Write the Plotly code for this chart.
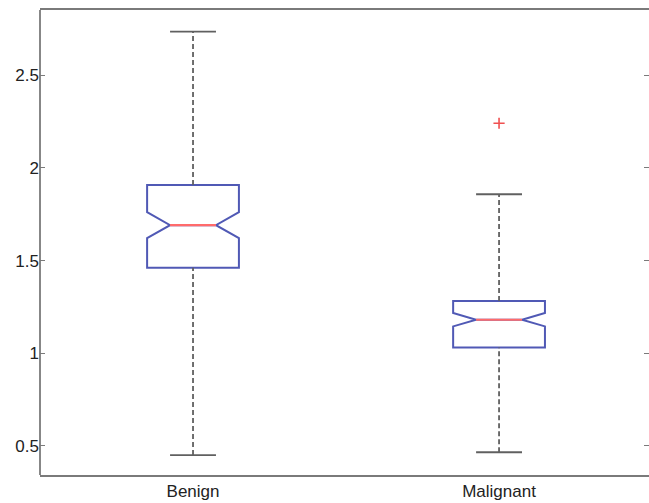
import plotly.graph_objects as go

categories = ["Benign", "Malignant"]
q1 = [1.462, 1.031]
median = [1.691, 1.181]
q3 = [1.908, 1.282]
lower_whisker = [0.451, 0.466]
upper_whisker = [2.735, 1.858]
notch_span = [0.070, 0.036]
outlier_group = ["Malignant"]
outlier_value = [2.241]

y_ticks = [0.5, 1, 1.5, 2, 2.5]

BOX_W = 0.3
CAP_HALF = 0.075
positions = [i + 1 for i in range(len(categories))]

fig = go.Figure()

fig.add_trace(go.Box(
    x=positions, q1=q1, median=median, q3=q3,
    lowerfence=q1, upperfence=q3, notchspan=notch_span,
    notched=True, notchwidth=0.25, width=BOX_W,
    line=dict(color="#5059b5", width=2), fillcolor="rgba(255,255,255,0)",
    whiskerwidth=0, boxpoints=False, hoverinfo="skip", showlegend=False,
))

# whiskers (dashed)
wx, wy = [], []
for p, a, b, c, d in zip(positions, lower_whisker, q1, q3, upper_whisker):
    wx += [p, p, None, p, p, None]
    wy += [a, b, None, c, d, None]
fig.add_trace(go.Scatter(x=wx, y=wy, mode="lines",
                         line=dict(color="#606060", width=1.8, dash="5px,3px"),
                         hoverinfo="skip", showlegend=False))

# whisker caps
cx, cy = [], []
for p, a, d in zip(positions, lower_whisker, upper_whisker):
    cx += [p - CAP_HALF, p + CAP_HALF, None, p - CAP_HALF, p + CAP_HALF, None]
    cy += [a, a, None, d, d, None]
fig.add_trace(go.Scatter(x=cx, y=cy, mode="lines",
                         line=dict(color="#606060", width=1.8),
                         hoverinfo="skip", showlegend=False))

# medians
mx, my = [], []
for p, m in zip(positions, median):
    mx += [p - CAP_HALF, p + CAP_HALF, None]
    my += [m, m, None]
fig.add_trace(go.Scatter(x=mx, y=my, mode="lines",
                         line=dict(color="#ff6b6b", width=2.2),
                         hoverinfo="skip", showlegend=False))

# outliers
ox = [positions[categories.index(g)] for g in outlier_group]
fig.add_trace(go.Scatter(x=ox, y=outlier_value, mode="markers",
                         marker=dict(symbol="cross-thin", size=8,
                                     line=dict(color="#f05050", width=1.6)),
                         hoverinfo="skip", showlegend=False))

fig.update_layout(
    width=649, height=503,
    margin=dict(l=40, r=0, t=10, b=28),
    paper_bgcolor="white", plot_bgcolor="white",
    font=dict(family="Liberation Sans, Arial, sans-serif", size=17, color="#222222"),
    xaxis=dict(range=[0.5, 2.49], tickvals=positions, ticktext=categories,
               showgrid=False, zeroline=False, ticks="", automargin=False,
               showline=True, mirror=True, linecolor="#7a7a7a", linewidth=1.8),
    yaxis=dict(range=[0.3434, 2.852], tickvals=y_ticks,
               ticktext=[str(v) for v in y_ticks], automargin=False,
               showgrid=False, zeroline=False, ticks="inside", ticklen=5,
               tickcolor="#7a7a7a", tickwidth=1.4,
               showline=False, mirror="ticks"),
    shapes=[dict(type="line", xref="paper", yref="paper", x0=0, x1=0, y0=0, y1=1,
                 line=dict(color="#7a7a7a", width=1.8))],
)

fig.write_html("out.html", config={"displayModeBar": False},
               post_script="document.body.style.margin='0';document.body.style.overflow='hidden';")
